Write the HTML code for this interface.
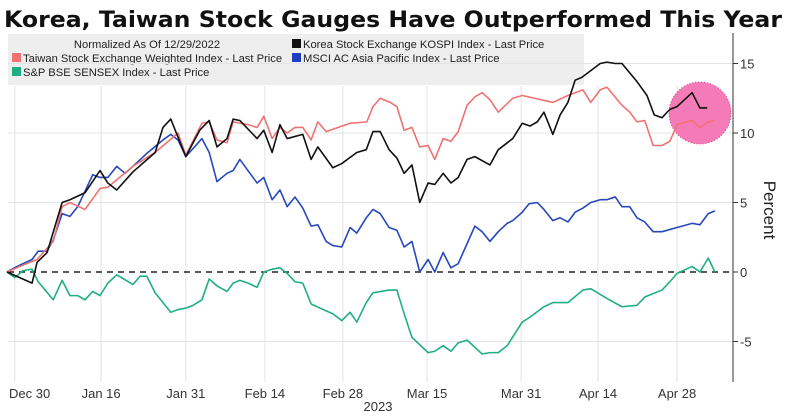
<!DOCTYPE html>
<html><head><meta charset="utf-8"><style>
body{margin:0;background:#fff;width:791px;height:417px;overflow:hidden;font-family:"Liberation Sans",sans-serif}
svg{display:block}
</style></head><body>
<svg id="c" width="791" height="417">
<text x="4" y="27" font-size="22" font-weight="bold" fill="#111" font-family="DejaVu Sans, sans-serif" textLength="778" lengthAdjust="spacingAndGlyphs">Korea, Taiwan Stock Gauges Have Outperformed This Year</text>
<rect x="8" y="34" width="576" height="51" fill="#eeeeee"/>
<g font-size="11.2" fill="#222">
<text x="147" y="48" text-anchor="middle">Normalized As Of 12/29/2022</text>
<rect x="292" y="39" width="9" height="9" fill="#111"/>
<text x="303" y="48">Korea Stock Exchange KOSPI Index - Last Price</text>
<rect x="12" y="53" width="9" height="9" fill="#f07272"/>
<text x="23" y="62">Taiwan Stock Exchange Weighted Index - Last Price</text>
<rect x="292" y="53" width="9" height="9" fill="#1f3fc0"/>
<text x="303" y="62">MSCI AC Asia Pacific Index - Last Price</text>
<rect x="12" y="67" width="9" height="9" fill="#1fae84"/>
<text x="23" y="76">S&amp;P BSE SENSEX Index - Last Price</text>
</g>
<g id="grid"></g>
<circle cx="700" cy="113" r="31" fill="#f57ab8" stroke="#d0408a" stroke-dasharray="1,2"/>
<g id="lines"></g>
<line x1="733" y1="33" x2="733" y2="382" stroke="#333"/>
<g id="axes" font-size="13" fill="#333"></g>
<text transform="translate(764,210) rotate(90)" text-anchor="middle" font-size="17" fill="#222">Percent</text>
<text x="378" y="411" text-anchor="middle" font-size="13" fill="#333">2023</text>
</svg>
<script>
const xTickLabels=["Dec 30","Jan 16","Jan 31","Feb 14","Feb 28","Mar 15","Mar 31","Apr 14","Apr 28"];
const xTickDays=[1.4,16.9,32.1,46.3,60.3,75.4,92.3,106.1,120.3];
const yTicks=[15,10,5,0,-5];
const korea=[[0,0],[4.5,-0.8],[5.4,0.7],[7.2,1.4],[9.9,5.0],[11.3,5.2],[14.0,5.7],[16.7,7.3],[18.1,6.4],[19.7,5.9],[22.6,7.2],[26.6,8.6],[28.0,10.4],[29.4,11.0],[30.7,9.7],[32.1,8.3],[34.6,10.2],[36.3,10.9],[37.7,9.0],[39.5,9.6],[40.6,11.0],[41.8,10.9],[44.9,9.6],[46.1,10.2],[47.6,8.6],[49.0,10.6],[50.3,9.6],[53.1,9.9],[54.6,8.1],[55.8,9.0],[58.5,7.5],[60.1,7.8],[62.8,8.6],[64.5,8.8],[65.7,10.1],[67.0,10.1],[68.6,8.8],[70.0,8.2],[71.3,7.1],[72.7,7.7],[74.1,5.0],[75.6,6.4],[76.8,6.3],[78.3,7.1],[79.7,6.4],[81.0,6.8],[82.6,8.1],[84.0,8.3],[86.7,7.7],[88.2,8.8],[90.8,9.6],[92.5,10.7],[93.9,10.5],[95.2,10.8],[96.4,11.5],[98.0,9.9],[99.3,11.3],[100.7,12.2],[102.0,13.8],[103.2,14.0],[106.5,15.0],[107.7,15.1],[109.2,15.0],[110.4,15.0],[113.1,13.7],[114.9,12.7],[116.2,11.3],[117.6,11.1],[119.0,11.7],[120.3,11.9],[123.0,12.9],[124.4,11.8],[125.7,11.8]];
const taiwan=[[0,0],[2.3,0.4],[5.4,0.9],[8.3,2.2],[9.9,4.7],[11.3,5.0],[14.0,4.5],[16.7,6.0],[18.1,6.1],[22.6,7.6],[26.6,8.6],[30.7,10.0],[32.1,8.4],[35.0,10.7],[36.3,10.8],[37.7,9.5],[39.5,9.3],[40.6,10.8],[43.3,10.6],[44.9,10.4],[46.1,11.2],[47.6,9.6],[49.0,10.4],[50.3,10.0],[51.7,10.4],[53.1,10.4],[54.6,9.5],[55.8,10.8],[57.3,10.1],[61.6,10.7],[64.6,10.8],[65.7,11.9],[67.0,12.5],[68.8,12.2],[70.0,11.9],[71.3,10.2],[72.7,10.4],[74.1,9.0],[75.6,9.1],[76.8,8.1],[78.3,9.6],[79.7,9.4],[81.0,10.1],[82.6,12.0],[84.0,12.6],[85.3,12.9],[86.7,12.4],[88.2,11.5],[90.8,12.5],[92.5,12.7],[98.0,12.2],[100.7,12.7],[103.4,13.1],[104.8,12.2],[106.5,13.1],[107.7,13.3],[110.4,12.0],[111.8,11.5],[113.1,10.8],[114.5,10.9],[116.0,9.1],[117.6,9.1],[119.0,9.4],[120.3,10.6],[123.0,10.9],[124.4,10.4],[125.9,10.8],[127.1,10.9]];
const msci=[[0,0],[1.8,0.4],[4.5,0.9],[5.6,1.5],[7.2,1.5],[8.3,2.3],[9.9,4.2],[11.3,4.0],[12.7,4.7],[15.4,7.0],[16.7,6.8],[18.1,6.8],[19.7,7.6],[21.2,7.1],[22.6,7.6],[25.3,8.6],[28.0,9.5],[29.4,9.9],[30.7,9.5],[32.1,8.3],[35.0,9.6],[36.3,8.6],[37.7,6.5],[39.5,7.1],[40.6,7.3],[41.8,8.1],[44.9,6.4],[46.1,6.8],[47.6,5.2],[49.0,5.9],[50.3,4.7],[51.7,5.4],[53.1,4.6],[54.6,3.3],[55.8,3.4],[57.3,2.2],[58.5,1.9],[60.1,1.8],[61.6,3.2],[62.8,2.8],[64.5,3.9],[65.7,4.5],[67.0,4.2],[68.6,3.2],[70.0,3.0],[71.3,1.8],[72.7,2.2],[74.1,0],[75.6,0.9],[76.8,0],[78.3,1.4],[79.7,0.3],[81.0,0.6],[84.0,3.3],[85.3,2.9],[86.7,2.2],[88.2,2.9],[89.8,3.5],[90.8,3.7],[92.5,4.3],[93.7,4.9],[95.2,5.0],[96.4,4.5],[98.0,3.7],[99.3,3.9],[100.7,3.6],[102.0,4.3],[103.4,4.6],[104.8,5.0],[106.5,5.2],[107.7,5.2],[109.2,5.4],[110.4,4.7],[111.8,4.7],[113.1,3.9],[114.5,3.6],[116.0,2.9],[117.6,2.9],[120.3,3.2],[123.0,3.5],[124.4,3.4],[125.9,4.2],[127.1,4.4]];
const sensex=[[0,0],[1.4,-0.4],[2.9,0.1],[4.5,0.2],[5.6,-0.7],[8.3,-2.0],[9.9,-0.6],[11.3,-1.7],[12.7,-1.7],[14.0,-2.0],[15.4,-1.4],[16.7,-1.7],[18.1,-0.8],[19.7,-0.2],[22.6,-0.9],[23.9,-0.3],[25.1,-0.3],[26.6,-1.5],[29.4,-2.9],[30.7,-2.7],[32.1,-2.6],[33.4,-2.4],[35.0,-2.0],[36.3,-0.5],[37.7,-1.0],[39.5,-1.4],[40.6,-0.8],[41.8,-0.6],[43.3,-0.8],[44.9,-1.1],[46.1,0],[47.6,0.2],[49.0,0.3],[50.3,-0.1],[51.7,-0.7],[53.1,-0.8],[54.6,-2.3],[57.3,-2.8],[58.5,-3.0],[60.1,-3.5],[61.6,-2.9],[62.8,-3.6],[64.5,-2.2],[65.7,-1.5],[68.6,-1.3],[70.0,-1.3],[71.3,-3.0],[72.7,-4.7],[75.6,-5.8],[76.8,-5.7],[78.3,-5.3],[79.7,-5.7],[81.0,-5.1],[82.6,-4.9],[85.3,-5.9],[86.7,-5.8],[88.2,-5.8],[89.8,-5.3],[92.5,-3.6],[93.7,-3.3],[96.4,-2.5],[98.0,-2.2],[100.7,-2.2],[103.4,-1.3],[104.8,-1.2],[107.7,-1.9],[110.4,-2.5],[113.1,-2.4],[114.5,-1.8],[117.6,-1.3],[119.0,-0.7],[120.3,-0.1],[123.0,0.4],[124.4,0],[125.9,1.0],[127.1,0]];
const NS="http://www.w3.org/2000/svg";
const xs=d=>7+5.57*d, ys=v=>272-13.9*v;
function mk(tag,at,parent){const e=document.createElementNS(NS,tag);for(const k in at)e.setAttribute(k,at[k]);parent.appendChild(e);return e;}
const grid=document.getElementById('grid'),axes=document.getElementById('axes'),lines=document.getElementById('lines');
xTickDays.forEach((d,i)=>{
  const g=mk('line',{x1:xs(d),x2:xs(d),y1:86,y2:382,stroke:'#e3e3e3'},grid);
  
  
  const first=i===0;
  const t=mk('text',{x:first?9:xs(d),y:398,'text-anchor':first?'start':'middle'},axes);t.textContent=xTickLabels[i];
  
  
});
yTicks.forEach(v=>{
  if(v!==0){const g=mk('line',{x1:8,x2:733,y1:ys(v),y2:ys(v),stroke:'#e3e3e3'},grid);
  
  }
  const tk=mk('line',{x1:733,x2:738,y1:ys(v),y2:ys(v),stroke:'#333'},axes);
  
  
  const t=mk('text',{x:740,y:ys(v)+5},axes);t.textContent=v<0?'-'+Math.abs(v):String(v);
  
  
});
const z=mk('line',{x1:8,x2:733,y1:ys(0),y2:ys(0),stroke:'#222','stroke-width':1.5,'stroke-dasharray':'6,5'},grid);


[[sensex,'#1fae84','line-sensex'],[msci,'#2648bd','line-msci'],[taiwan,'#f07272','line-taiwan'],[korea,'#111','line-korea']].forEach(([s,c,n])=>{
  const p=mk('polyline',{points:s.map(q=>xs(q[0])+','+ys(q[1])).join(' '),fill:'none',stroke:c,'stroke-width':1.6,'stroke-linejoin':'round'},lines);
  
  
});
</script>
</body></html>
